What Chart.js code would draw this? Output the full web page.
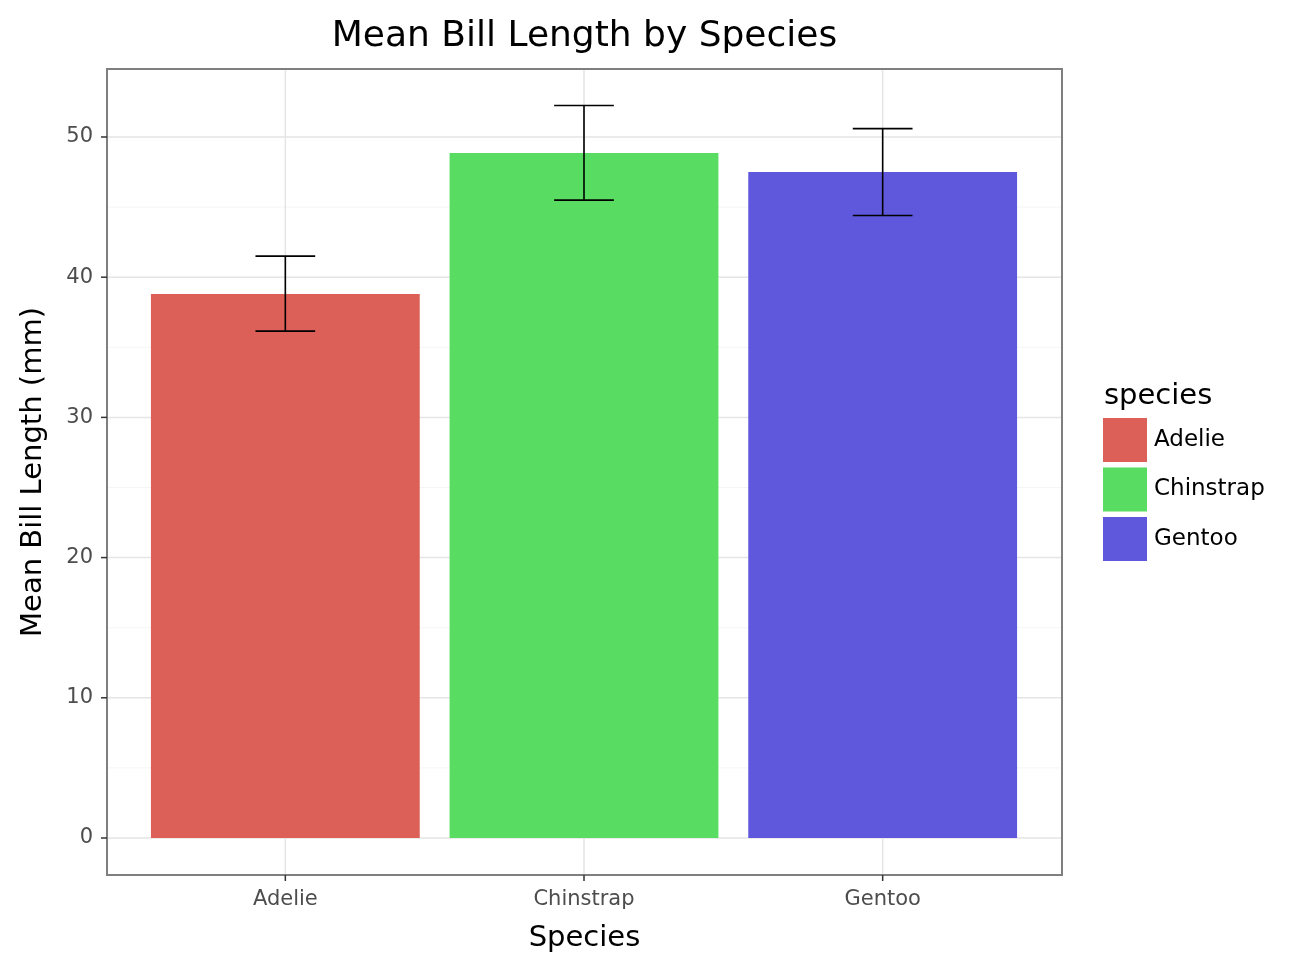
<!DOCTYPE html>
<html><head><meta charset="utf-8">
<script src="https://cdn.jsdelivr.net/npm/chart.js@4/dist/chart.umd.min.js"></script>
<style>html,body{margin:0;background:#fff}#wrap{width:1294px;height:974px;position:relative}</style>
</head><body><div id="wrap"><canvas id="c"></canvas></div>
<script>
const species = ['Adelie','Chinstrap','Gentoo']
const means = [38.8, 48.85, 47.5]
const errLow = [36.15, 45.5, 44.4]
const errHigh = [41.5, 52.25, 50.6]
const colors = ['#DC5F58','#58DC61','#5F58DC']
const yTicks = [0,5,10,15,20,25,30,35,40,45,50]
const F = 'DejaVu Sans'
// panel box (ggplot panel is wider than the category band area)
const P = {left:107, right:1062, top:69, bottom:875}

const extras = {
  id:'extras',
  beforeDatasetsDraw(chart){
    const {ctx,scales:{x,y}} = chart
    ctx.save()
    yTicks.forEach(v=>{
      const py=y.getPixelForValue(v), major=v%10===0
      ctx.strokeStyle=major?'#e5e5e5':'#f5f5f5'; ctx.lineWidth=major?1.5:1
      ctx.beginPath(); ctx.moveTo(P.left,py); ctx.lineTo(P.right,py); ctx.stroke()
    })
    species.forEach((s,i)=>{
      const px=x.getPixelForValue(i)
      ctx.strokeStyle='#e5e5e5'; ctx.lineWidth=1.5
      ctx.beginPath(); ctx.moveTo(px,P.top); ctx.lineTo(px,P.bottom); ctx.stroke()
    })
    ctx.restore()
  },
  afterDatasetsDraw(chart){
    const {ctx,scales:{x,y}} = chart
    const unit = x.getPixelForValue(1)-x.getPixelForValue(0)
    ctx.save()
    ctx.strokeStyle='#000'; ctx.lineWidth=1.6
    species.forEach((s,i)=>{
      const cx=x.getPixelForValue(i), l=cx-0.1*unit, r=cx+0.1*unit
      const t=y.getPixelForValue(errHigh[i]), b=y.getPixelForValue(errLow[i])
      ctx.beginPath()
      ctx.moveTo(l,t);ctx.lineTo(r,t);ctx.moveTo(cx,t);ctx.lineTo(cx,b);ctx.moveTo(l,b);ctx.lineTo(r,b)
      ctx.stroke()
    })
    ctx.strokeStyle='#7f7f7f'; ctx.lineWidth=2
    ctx.strokeRect(P.left,P.top,P.right-P.left,P.bottom-P.top)
    // ticks and tick labels
    ctx.strokeStyle='#333'; ctx.lineWidth=1.5
    ctx.fillStyle='#4d4d4d'; ctx.font=`21px '${F}'`
    ctx.textAlign='right'; ctx.textBaseline='middle'
    yTicks.filter(v=>v%10===0).forEach(v=>{
      const py=y.getPixelForValue(v)
      ctx.beginPath(); ctx.moveTo(P.left-6,py); ctx.lineTo(P.left,py); ctx.stroke()
      ctx.fillText(String(v),P.left-14,py)
    })
    ctx.textAlign='center'
    species.forEach((s,i)=>{
      const px=x.getPixelForValue(i)
      ctx.beginPath(); ctx.moveTo(px,P.bottom); ctx.lineTo(px,P.bottom+6); ctx.stroke()
      ctx.fillText(s,px,900)
    })
    ctx.fillStyle='#000'
    ctx.font=`36px '${F}'`; ctx.fillText('Mean Bill Length by Species',(P.left+P.right)/2,37)
    ctx.font=`29px '${F}'`; ctx.fillText('Species',(P.left+P.right)/2,938)
    ctx.save(); ctx.translate(33,(P.top+P.bottom)/2); ctx.rotate(-Math.PI/2)
    ctx.fillText('Mean Bill Length (mm)',0,0); ctx.restore()
    // legend
    ctx.textAlign='left'; ctx.font=`29px '${F}'`; ctx.fillText('species',1104,396)
    ctx.font=`23px '${F}'`
    species.forEach((s,i)=>{
      const top=418+i*49.5
      ctx.fillStyle=colors[i]; ctx.fillRect(1103,top,44,44)
      ctx.fillStyle='#000'; ctx.fillText(s,1154,top+22)
    })
    ctx.restore()
  }
}

new Chart(document.getElementById('c'),{
  type:'bar',
  data:{labels:species,datasets:[{data:means,backgroundColor:colors,borderWidth:0,barPercentage:0.9,categoryPercentage:1}]},
  options:{
    responsive:true,maintainAspectRatio:false,animation:false,
    layout:{padding:{left:136,top:69,right:262,bottom:99}},
    plugins:{legend:{display:false},tooltip:{enabled:false}},
    scales:{
      x:{afterFit(s){s.height=0},grid:{display:false},border:{display:false},ticks:{display:false}},
      y:{min:-2.64,max:54.85,afterFit(s){s.width=0},grid:{display:false},border:{display:false},ticks:{display:false}}
    }
  },
  plugins:[extras]
})
</script></body></html>
